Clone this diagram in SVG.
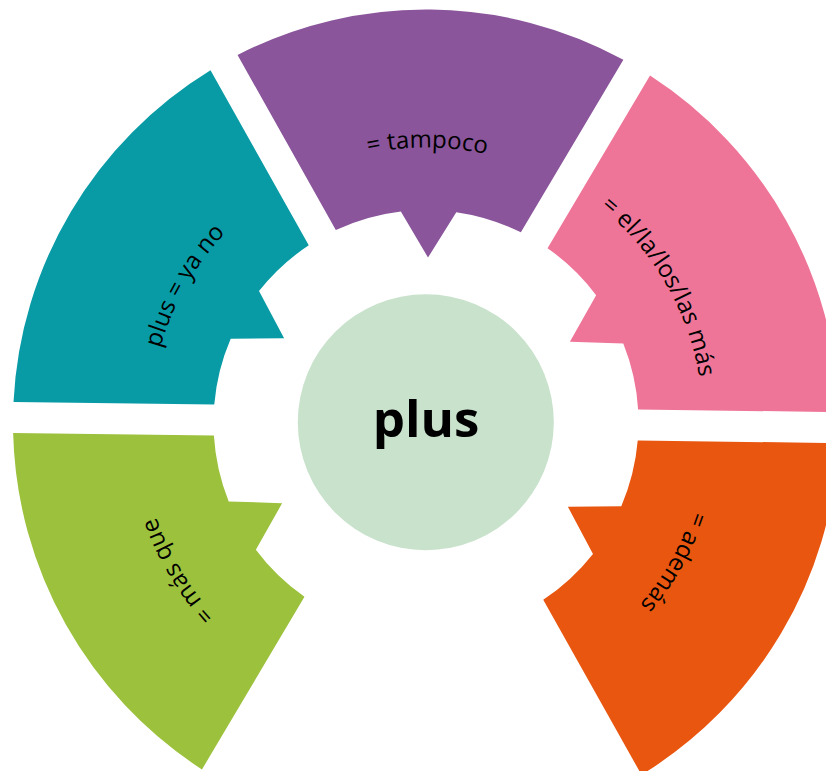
<svg xmlns="http://www.w3.org/2000/svg" width="826" height="771" viewBox="0 0 826 771">
<defs>
<style>
.lbl{font-family:"Open Sans","Noto Sans","DejaVu Sans",sans-serif;font-size:24px;font-weight:500;fill:#000000;}
.ctr{font-family:"Open Sans","Noto Sans","DejaVu Sans",sans-serif;font-size:51px;font-weight:700;fill:#000000;}
</style>
<path id="seg" d="M -192.93 -365.17 A 413 413 0 0 1 192.93 -365.17 L 92.54 -191.29 A 212.5 212.5 0 0 0 27.74 -210.68 L 0 -165 L -27.74 -210.68 A 212.5 212.5 0 0 0 -92.54 -191.29 Z"/>
<path id="a275" d="M -275 0 A 275 275 0 0 1 275 0"/>
<path id="a276" d="M -276 0 A 276 276 0 0 1 276 0"/>
<path id="a277" d="M -277 0 A 277 277 0 0 1 277 0"/>
<path id="a281" d="M -281 0 A 281 281 0 0 1 281 0"/>
<path id="a285" d="M -286 0 A 286 286 0 0 1 286 0"/>
</defs>
<rect width="826" height="771" fill="#ffffff"/>
<g transform="translate(426 422.5)">
  <g id="node-tampoco">
    <use href="#seg" transform="rotate(0.7)" fill="#8A559B"/>
    <text class="lbl" transform="rotate(0.3)"><textPath href="#a275" startOffset="50%" text-anchor="middle">= tampoco</textPath></text>
  </g>
  <g id="node-ya-no">
    <use href="#seg" transform="rotate(-59.3)" fill="#089BA6"/>
    <text class="lbl" transform="rotate(-60.5)"><textPath href="#a276" startOffset="50%" text-anchor="middle">plus = ya no</textPath></text>
  </g>
  <g id="node-el-mas">
    <use href="#seg" transform="rotate(60.7)" fill="#EE7597"/>
    <text class="lbl" transform="rotate(59.8)"><textPath href="#a277" startOffset="50%" text-anchor="middle">= el/la/los/las más</textPath></text>
  </g>
  <g id="node-ademas">
    <use href="#seg" transform="rotate(120.7)" fill="#E9560F"/>
    <text class="lbl" transform="rotate(119.4)"><textPath href="#a281" startOffset="50%" text-anchor="middle">= además</textPath></text>
  </g>
  <g id="node-mas-que">
    <use href="#seg" transform="rotate(-119.3)" fill="#9CC13C"/>
    <text class="lbl" transform="rotate(-120.9)"><textPath href="#a285" startOffset="50%" text-anchor="middle">= más que</textPath></text>
  </g>
  <g id="node-plus">
    <circle cx="-0.2" cy="-0.3" r="128" fill="#C9E2CC"/>
    <text class="ctr" x="0" y="14.2" text-anchor="middle">plus</text>
  </g>
</g>
</svg>
